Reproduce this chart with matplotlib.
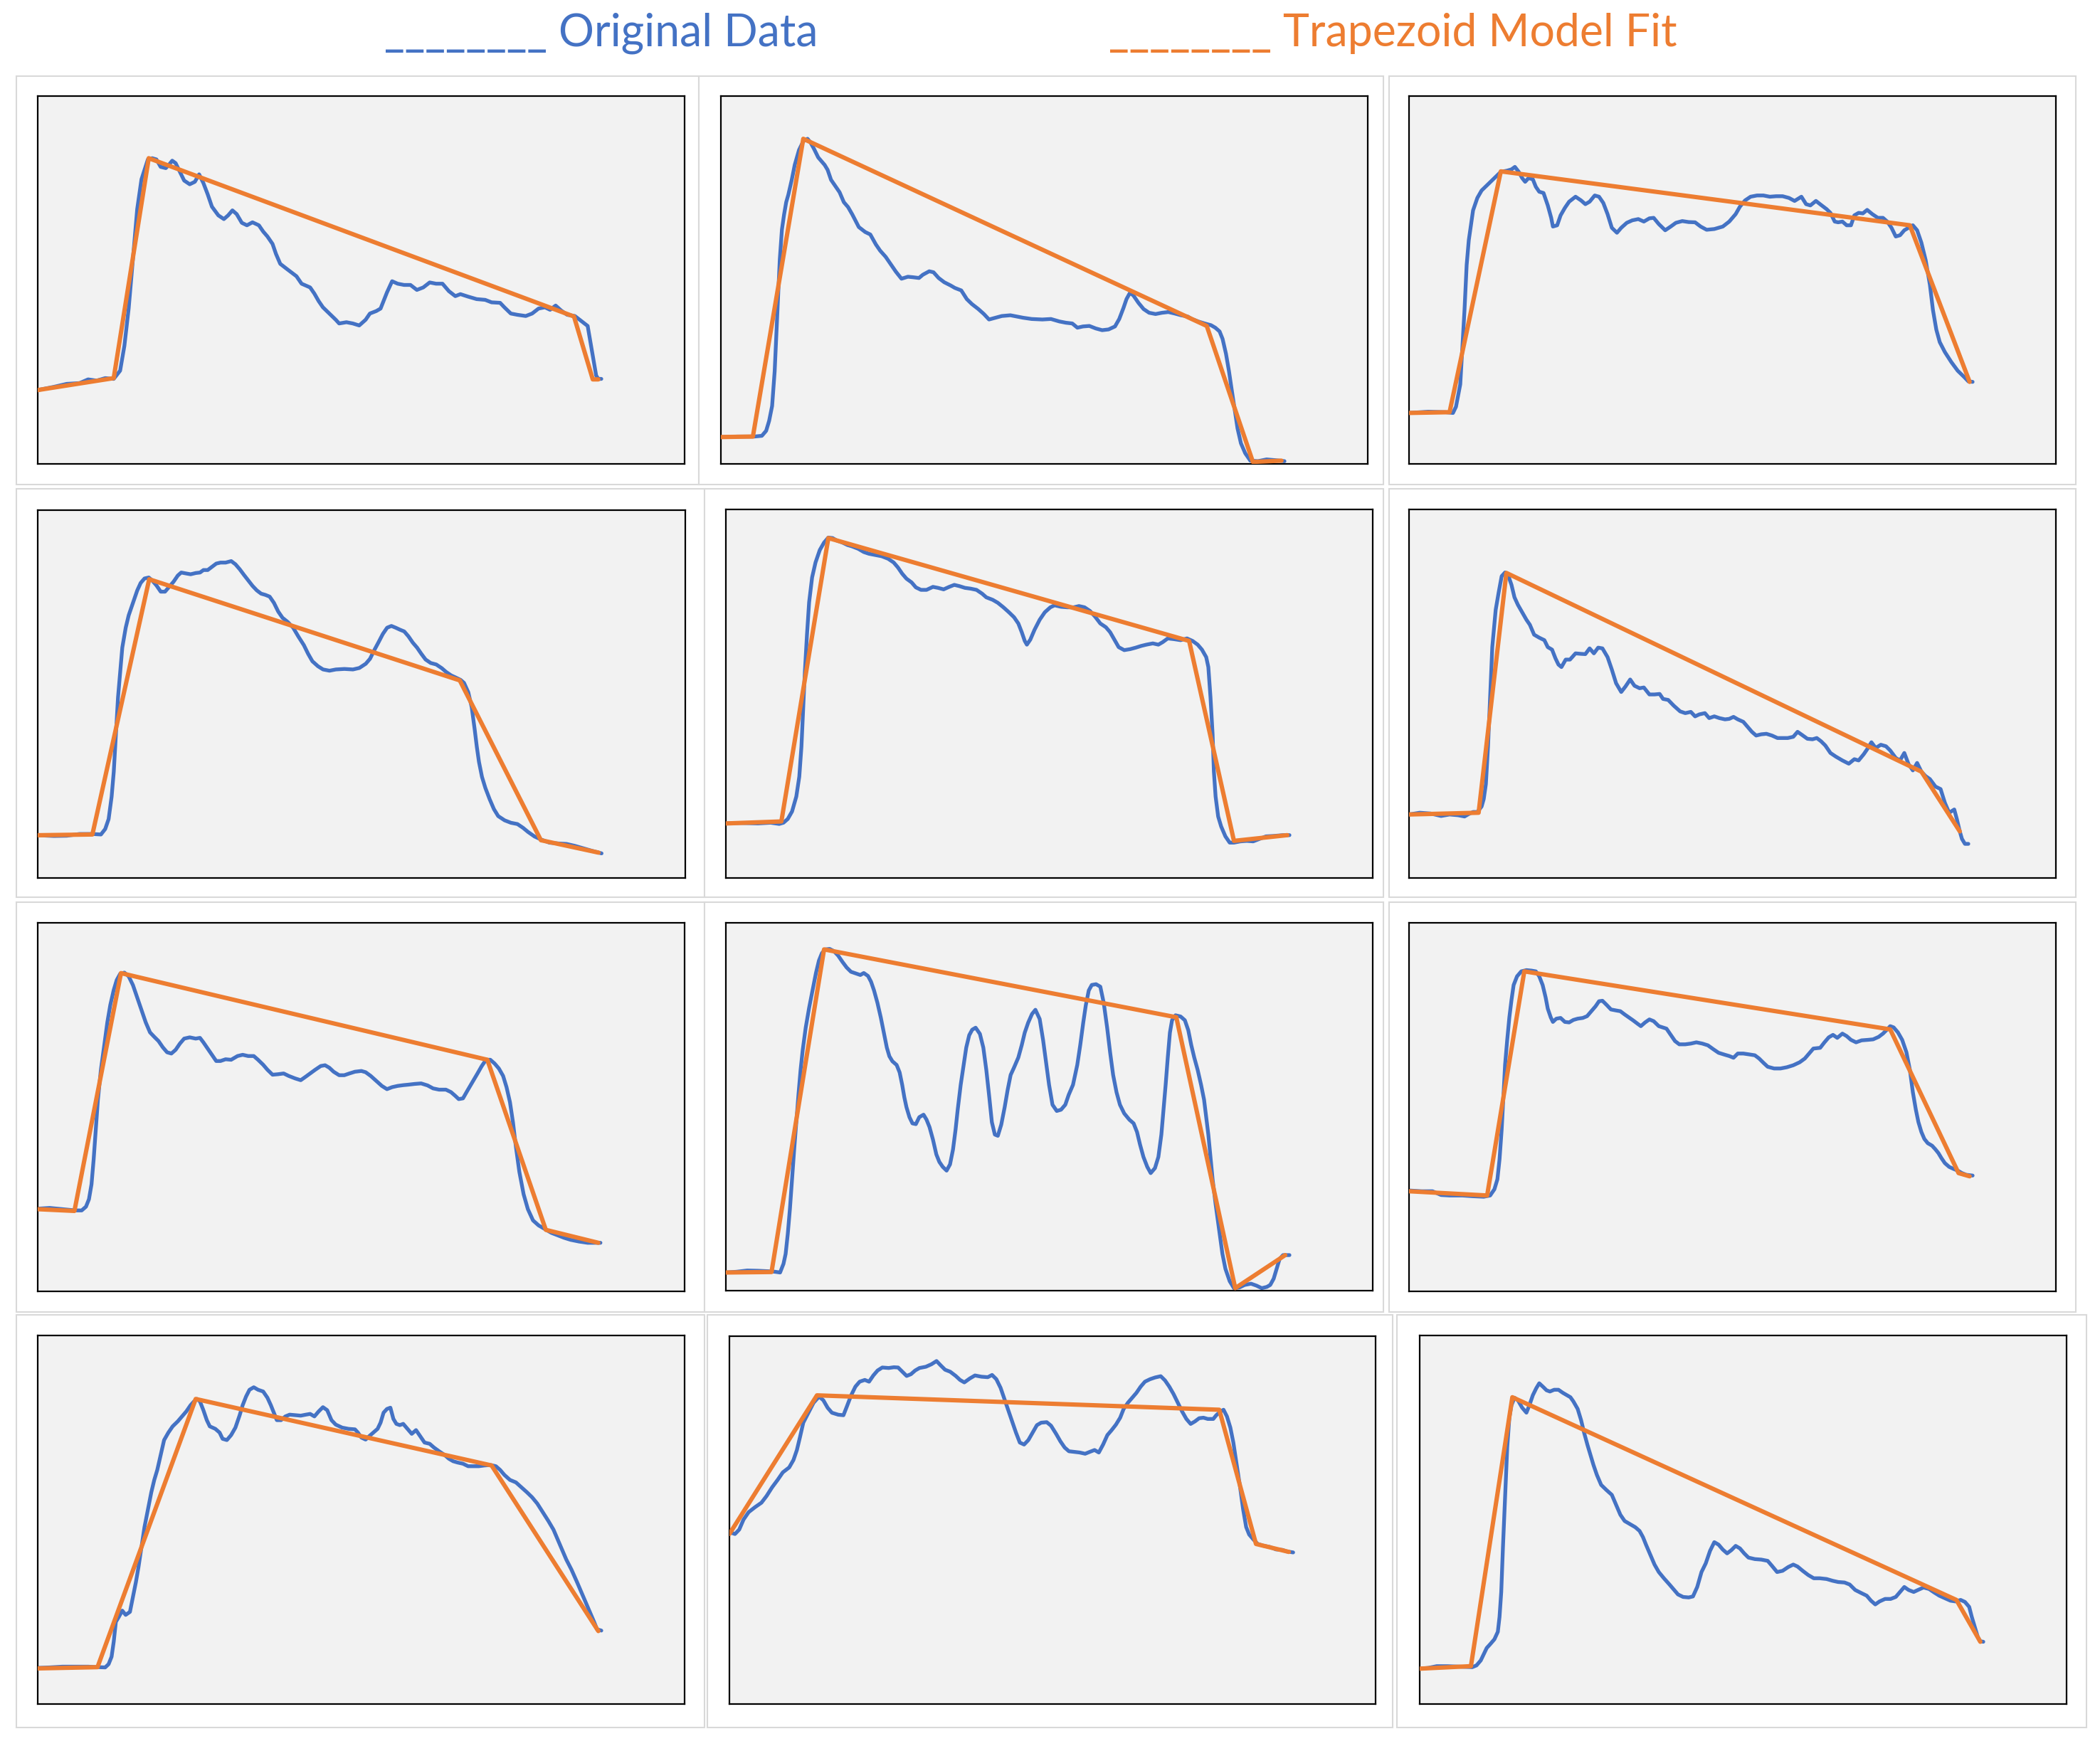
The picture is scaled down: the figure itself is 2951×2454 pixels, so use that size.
import matplotlib
matplotlib.use("Agg")
import matplotlib.pyplot as plt
from matplotlib.patches import Rectangle

# ---------------- data (time index, signal level) ----------------
p1_data = [(22,297),(60,310),(90,322),(120,325),(140,340),(160,335),(180,345),(200,342),(215,375),(225,475),(235,625),(245,825),(255,1025),(265,1145),(280,1225),(290,1230),(300,1225),(310,1195),(322,1190),(330,1205),(337,1220),(345,1210),(355,1175),(365,1140),(378,1125),(390,1135),(400,1165),(410,1130),(420,1085),(430,1035),(445,1000),(458,985),(468,1000),(478,1020),(488,1005),(500,970),(512,960),(525,972),(540,960),(550,935),(560,915),(572,885),(580,845),(590,805),(605,785),(628,755),(640,725),(660,710),(670,685),(680,655),(690,630),(705,605),(720,580),(728,565),(745,570),(760,565),(775,557),(790,580),(800,605),(815,615),(825,625),(840,690),(852,735),(865,725),(880,720),(895,720),(910,700),(925,710),(940,730),(955,725),(970,725),(985,695),(1000,675),(1012,683),(1030,673),(1050,663),(1070,660),(1085,650),(1105,648),(1115,630),(1130,605),(1145,600),(1165,595),(1180,605),(1195,625),(1210,630),(1222,620),(1235,637),(1248,617),(1262,600),(1280,595),(1295,575),(1310,555),(1318,475),(1325,405),(1330,355),(1335,342),(1342,342)]
p1_fit = [(22,297),(200,345),(282,1230),(1278,593),(1322,340),(1335,340)]

p2_data = [(22,108),(60,110),(100,110),(118,113),(128,133),(135,173),(142,233),(148,373),(152,523),(156,673),(160,823),(165,943),(170,1003),(175,1053),(180,1083),(188,1143),(195,1203),(205,1263),(215,1298),(225,1308),(232,1293),(240,1268),(250,1233),(265,1203),(272,1183),(280,1143),(290,1118),(300,1093),(310,1053),(320,1033),(330,1003),(345,953),(360,933),(372,923),(385,883),(395,858),(408,833),(420,803),(432,773),(445,745),(460,753),(472,751),(486,748),(495,761),(510,775),(520,771),(532,748),(545,731),(560,718),(570,708),(585,698),(598,663),(610,643),(625,623),(638,603),(650,581),(665,588),(680,595),(700,598),(715,593),(730,588),(750,583),(775,581),(795,583),(815,573),(830,568),(845,565),(857,548),(870,553),(885,555),(900,545),(915,538),(930,541),(945,553),(955,583),(965,628),(972,663),(980,688),(988,678),(1000,648),(1012,623),(1025,608),(1040,603),(1055,608),(1070,611),(1085,605),(1100,598),(1115,593),(1125,583),(1140,573),(1155,565),(1170,558),(1180,548),(1190,533),(1197,503),(1205,443),(1212,373),(1218,303),(1225,223),(1232,143),(1240,83),(1250,43),(1262,13),(1280,11),(1300,18),(1320,15),(1342,11)]
p2_fit = [(22,108),(97,110),(215,1308),(1160,555),(1268,8),(1335,13)]

p3_data = [(25,205),(70,210),(110,208),(128,205),(135,230),(145,320),(150,470),(155,620),(160,800),(165,900),(170,960),(175,1020),(185,1070),(195,1100),(210,1125),(225,1150),(240,1175),(255,1180),(265,1185),(273,1195),(282,1175),(290,1150),(297,1135),(305,1150),(315,1145),(322,1115),(330,1095),(340,1090),(350,1040),(358,990),(362,955),(372,960),(380,1000),(390,1030),(400,1055),(415,1075),(428,1060),(438,1045),(448,1055),(460,1080),(470,1075),(480,1050),(490,1005),(500,950),(512,930),(522,950),(535,970),(548,980),(562,985),(575,975),(588,988),(598,990),(610,965),(625,940),(638,955),(650,970),(665,977),(680,973),(695,972),(708,955),(722,942),(740,945),(760,955),(775,975),(790,1005),(800,1035),(812,1060),(825,1075),(840,1080),(855,1080),(870,1075),(885,1077),(900,1077),(915,1070),(928,1058),(944,1075),(955,1045),(965,1040),(978,1058),(990,1042),(1003,1025),(1012,1010),(1022,975),(1030,972),(1040,975),(1050,960),(1060,960),(1068,1000),(1078,1010),(1088,1008),(1098,1022),(1110,1005),(1123,990),(1135,990),(1145,975),(1155,950),(1165,915),(1175,920),(1185,940),(1195,950),(1205,960),(1215,940),(1225,890),(1235,820),(1245,720),(1252,620),(1260,540),(1268,490),(1280,450),(1295,410),(1310,375),(1325,350),(1335,332),(1345,330)]
p3_fit = [(25,205),(120,208),(240,1177),(1198,960),(1338,330)]

p4_data = [(22,172),(60,169),(90,170),(120,177),(150,177),(170,175),(180,197),(188,237),(195,327),(200,427),(205,577),(210,727),(215,827),(220,927),(228,1007),(235,1057),(245,1107),(255,1157),(263,1187),(272,1205),(282,1209),(290,1197),(300,1177),(310,1152),(320,1152),(330,1172),(340,1192),(350,1217),(358,1229),(370,1225),(380,1222),(392,1227),(402,1229),(410,1239),(420,1239),(430,1252),(440,1265),(450,1269),(462,1269),(475,1275),(485,1262),(495,1242),(505,1219),(515,1197),(525,1175),(535,1157),(545,1144),(555,1139),(565,1132),(575,1107),(585,1072),(595,1047),(608,1029),(620,1007),(632,972),(645,937),(655,902),(665,872),(678,852),(690,839),(705,834),(720,839),(740,841),(760,839),(775,845),(790,862),(800,882),(810,917),(820,949),(830,982),(840,1007),(850,1014),(860,1007),(870,999),(880,992),(890,972),(900,947),(910,927),(920,902),(930,879),(942,865),(955,859),(968,844),(978,829),(990,815),(1000,807),(1012,797),(1020,785),(1030,747),(1038,687),(1045,597),(1050,527),(1055,467),(1062,407),(1070,362),(1080,317),(1090,277),(1100,249),(1115,232),(1130,222),(1145,217),(1158,202),(1170,185),(1185,167),(1200,155),(1220,142),(1240,139),(1260,137),(1280,129),(1300,119),(1320,109),(1342,99)]
p4_fit = [(22,172),(150,175),(283,1202),(1010,795),(1200,152),(1335,102)]

p5_data = [(25,219),(60,221),(100,219),(130,222),(150,217),(160,222),(170,237),(180,267),(190,327),(197,407),(202,527),(206,677),(210,827),(215,977),(220,1107),(227,1207),(235,1267),(245,1317),(255,1347),(265,1367),(275,1365),(285,1355),(298,1347),(310,1337),(320,1332),(335,1322),(348,1309),(360,1302),(375,1297),(390,1292),(405,1282),(418,1267),(428,1247),(438,1222),(448,1202),(460,1187),(470,1167),(482,1157),(495,1157),(510,1169),(522,1165),(535,1159),(548,1169),(560,1177),(572,1172),(585,1165),(598,1162),(612,1157),(625,1142),(635,1127),(650,1117),(662,1105),(675,1087),(688,1067),(700,1047),(710,1022),(718,987),(725,952),(730,937),(738,957),(748,997),(760,1037),(772,1067),(785,1087),(795,1095),(810,1089),(825,1087),(840,1087),(852,1092),(865,1087),(878,1072),(890,1049),(902,1022),(915,1007),(925,987),(935,957),(945,927),(958,915),(972,919),(985,925),(998,932),(1010,937),(1025,942),(1038,937),(1048,947),(1060,962),(1075,959),(1090,955),(1105,962),(1118,952),(1130,937),(1140,917),(1150,887),(1155,847),(1160,727),(1165,577),(1168,427),(1172,327),(1178,247),(1185,207),(1195,167),(1205,142),(1215,142),(1230,147),(1245,149),(1260,147),(1275,157),(1290,167),(1310,169),(1330,172),(1345,172)]
p5_fit = [(25,219),(155,227),(265,1365),(1110,952),(1215,149),(1340,172)]

p6_data = [(25,255),(50,262),(75,259),(100,249),(120,255),(140,252),(155,247),(165,257),(175,265),(185,265),(195,287),(200,317),(205,377),(210,527),(215,727),(220,927),(228,1077),(235,1147),(242,1212),(250,1227),(258,1212),(265,1177),(272,1127),(280,1097),(290,1067),(300,1037),(308,1017),(318,977),(330,965),(342,955),(350,927),(360,917),(368,882),(375,857),(382,847),(392,877),(402,877),(415,902),(428,900),(438,899),(448,922),(458,902),(468,925),(478,922),(490,887),(500,837),(510,782),(522,747),(532,769),(543,797),(553,772),(565,762),(575,765),(588,737),(600,737),(612,739),(620,719),(632,715),(645,692),(660,669),(672,662),(685,667),(695,649),(705,657),(718,662),(728,642),(740,649),(752,642),(765,637),(775,639),(785,647),(795,637),(808,627),(818,607),(828,587),(838,572),(850,577),(862,579),(875,572),(888,562),(900,562),(912,562),(925,567),(935,587),(945,575),(958,559),(970,557),(980,562),(990,549),(1000,532),(1012,502),(1025,487),(1040,472),(1055,459),(1068,477),(1078,472),(1090,497),(1100,522),(1108,545),(1118,522),(1130,535),(1142,529),(1152,512),(1165,482),(1175,472),(1185,502),(1195,457),(1205,432),(1215,462),(1225,427),(1235,409),(1245,397),(1258,367),(1270,357),(1280,302),(1290,262),(1302,275),(1308,237),(1315,187),(1320,157),(1327,137),(1335,137)]
p6_fit = [(25,255),(188,262),(253,1225),(1225,427),(1315,187)]

p7_data = [(22,332),(50,335),(80,330),(110,325),(125,325),(135,340),(142,370),(148,430),(153,530),(158,650),(163,770),(170,890),(178,990),(185,1080),(192,1150),(200,1210),(207,1250),(215,1275),(225,1280),(235,1265),(245,1230),(255,1180),(265,1130),(275,1080),(285,1040),(295,1022),(305,1005),(315,980),(325,960),(335,955),(345,970),(355,995),(365,1015),(378,1020),(392,1015),(402,1018),(410,1000),(420,975),(430,950),(440,925),(450,925),(462,932),(475,930),(490,945),(502,950),(515,945),(528,945),(538,930),(550,910),(560,890),(572,870),(585,872),(598,875),(610,865),(625,855),(638,848),(648,860),(660,875),(672,890),(685,905),(695,908),(705,898),(715,882),(728,868),(740,868),(752,875),(765,882),(780,885),(790,880),(802,865),(815,845),(828,825),(840,812),(852,820),(865,825),(878,828),(890,830),(905,833),(920,835),(935,827),(948,815),(962,810),(978,810),(990,800),(1000,785),(1008,772),(1018,775),(1028,805),(1040,840),(1052,875),(1062,905),(1072,930),(1082,930),(1092,915),(1102,895),(1112,865),(1120,820),(1128,760),(1135,680),(1142,580),(1150,480),(1160,390),(1170,330),(1182,285),(1195,265),(1210,250),(1225,235),(1240,225),(1255,215),(1270,207),(1290,200),(1310,195),(1340,195)]
p7_fit = [(22,330),(108,323),(217,1278),(1075,930),(1212,247),(1335,195)]

p8_data = [(25,73),(50,76),(75,81),(100,80),(125,78),(140,76),(152,73),(160,108),(165,148),(170,228),(175,328),(180,448),(185,568),(190,678),(195,788),(200,888),(205,968),(212,1058),(220,1138),(228,1208),(236,1278),(243,1328),(250,1358),(258,1373),(268,1375),(278,1366),(288,1348),(298,1323),(308,1300),(318,1283),(330,1276),(340,1270),(348,1278),(358,1266),(365,1243),(372,1208),(380,1158),(388,1098),(395,1038),(402,978),(408,943),(415,923),(425,908),(432,878),(438,828),(443,778),(448,738),(455,698),(462,673),(470,670),(478,698),(488,708),(495,688),(502,658),(510,608),(518,548),(525,518),(533,498),(542,483),(550,508),(557,568),(563,648),(568,728),(575,828),(582,908),(588,978),(595,1028),(602,1050),(610,1058),(620,1033),(628,978),(635,888),(642,778),(648,678),(655,628),(662,623),(670,668),(678,738),(685,808),(692,868),(700,898),(710,938),(718,988),(725,1038),(733,1078),(742,1113),(750,1130),(760,1093),(768,1008),(775,918),(782,828),(790,748),(800,723),(810,728),(820,748),(828,788),(838,828),(848,908),(855,988),(862,1078),(868,1148),(875,1208),(882,1230),(892,1233),(902,1223),(910,1158),(918,1058),(925,958),(932,868),(940,798),(948,748),(958,713),(970,688),(980,673),(988,638),(995,588),(1003,538),(1012,498),(1020,473),(1030,493),(1038,538),(1045,628),(1050,728),(1055,828),(1060,938),(1065,1038),(1070,1088),(1078,1108),(1090,1103),(1100,1088),(1108,1048),(1115,988),(1122,938),(1130,888),(1138,828),(1145,768),(1150,698),(1155,628),(1160,538),(1165,448),(1172,348),(1180,248),(1188,148),(1195,88),(1205,38),(1215,10),(1228,13),(1240,23),(1255,28),(1268,20),(1280,10),(1292,15),(1300,23),(1308,48),(1315,88),(1322,128),(1330,143),(1345,143)]
p8_fit = [(25,73),(132,75),(255,1373),(1080,1100),(1218,10),(1335,143)]

p9_data = [(25,405),(55,402),(80,402),(100,387),(120,385),(150,385),(175,382),(200,380),(215,385),(225,410),(232,450),(237,530),(242,650),(246,780),(250,910),(255,1010),(260,1100),(265,1170),(270,1230),(278,1265),(288,1285),(300,1290),(312,1288),(322,1285),(330,1265),(338,1230),(345,1180),(350,1135),(357,1100),(362,1082),(370,1095),(380,1098),(390,1082),(400,1080),(410,1090),(420,1095),(432,1098),(442,1105),(452,1125),(462,1145),(470,1165),(478,1167),(488,1150),(498,1132),(510,1128),(520,1125),(530,1112),(540,1100),(550,1088),(560,1075),(568,1065),(578,1080),(588,1092),(598,1085),(610,1065),(628,1055),(638,1030),(648,1005),(658,992),(672,992),(685,995),(698,1000),(712,995),(725,988),(738,972),(750,958),(765,950),(775,945),(785,938),(795,955),(808,955),(820,952),(835,948),(845,935),(855,918),(865,902),(880,895),(895,895),(910,900),(925,908),(940,920),(952,935),(962,955),(972,975),(988,978),(998,1000),(1008,1020),(1018,1030),(1028,1018),(1040,1035),(1050,1025),(1060,1010),(1072,1000),(1085,1008),(1100,1010),(1112,1012),(1125,1022),(1135,1035),(1145,1052),(1152,1065),(1160,1060),(1170,1040),(1180,1010),(1190,960),(1198,890),(1205,800),(1212,730),(1218,680),(1225,640),(1232,612),(1240,595),(1250,585),(1258,570),(1265,555),(1272,535),(1280,515),(1290,500),(1300,492),(1310,485),(1320,475),(1330,468),(1345,465)]
p9_fit = [(25,402),(208,385),(295,1285),(1152,1052),(1312,475),(1338,462)]

p10_data = [(22,145),(50,147),(80,150),(110,150),(140,150),(165,148),(180,147),(188,160),(195,190),(200,250),(205,330),(212,350),(220,375),(228,358),(238,370),(245,430),(252,490),(258,550),(265,630),(272,710),(280,780),(288,850),(295,900),(302,940),(310,1000),(318,1060),(328,1090),(338,1115),(350,1135),(360,1155),(370,1175),(380,1200),(388,1215),(395,1225),(402,1215),(410,1180),(418,1140),(425,1115),(438,1105),(448,1090),(455,1065),(465,1060),(475,1080),(485,1110),(495,1160),(502,1200),(510,1235),(518,1262),(528,1272),(538,1262),(550,1255),(560,1230),(568,1200),(575,1170),(582,1140),(592,1140),(602,1155),(612,1162),(625,1160),(638,1158),(650,1162),(660,1165),(670,1155),(680,1175),(690,1192),(700,1180),(710,1140),(720,1122),(735,1110),(750,1105),(765,1103),(772,1090),(780,1070),(790,1062),(798,1075),(808,1090),(818,1105),(825,1130),(832,1170),(840,1185),(848,1190),(855,1145),(862,1125),(870,1120),(878,1125),(888,1105),(898,1085),(908,1100),(918,1075),(928,1050),(940,1045),(950,1030),(962,1015),(975,1000),(985,985),(995,975),(1005,970),(1018,965),(1030,955),(1042,955),(1055,955),(1068,958),(1082,960),(1095,955),(1105,940),(1115,920),(1128,900),(1142,890),(1155,870),(1168,850),(1180,830),(1192,805),(1205,770),(1218,735),(1230,700),(1240,660),(1250,620),(1260,580),(1272,540),(1285,490),(1295,450),(1305,410),(1315,370),(1325,330),(1332,300),(1342,295)]
p10_fit = [(22,143),(162,148),(392,1225),(1085,958),(1335,293)]

p11_data = [(25,692),(38,684),(48,702),(58,742),(70,772),(85,792),(100,810),(112,837),(125,872),(138,902),(150,932),(165,952),(175,982),(183,1022),(190,1072),(198,1132),(210,1172),(222,1212),(235,1237),(245,1222),(255,1192),(265,1172),(280,1164),(292,1162),(300,1197),(310,1242),(320,1277),(330,1297),(342,1304),(352,1297),(362,1322),(372,1342),(383,1354),(398,1352),(410,1355),(420,1354),(430,1337),(440,1320),(450,1327),(460,1342),(470,1352),(485,1357),(498,1367),(510,1380),(520,1362),(530,1345),(542,1337),(555,1320),(565,1304),(575,1294),(588,1310),(600,1322),(615,1317),(630,1315),(640,1324),(650,1307),(660,1272),(668,1232),(678,1182),(688,1132),(696,1092),(705,1052),(715,1044),(725,1062),(735,1092),(745,1122),(755,1132),(768,1134),(778,1120),(790,1087),(800,1057),(810,1032),(820,1017),(835,1014),(845,1012),(858,1007),(868,1014),(880,1022),(890,1012),(900,1044),(910,1082),(920,1102),(930,1124),(940,1152),(948,1187),(958,1212),(968,1232),(978,1252),(988,1277),(998,1297),(1010,1307),(1022,1314),(1035,1319),(1045,1302),(1055,1277),(1065,1247),(1075,1212),(1085,1177),(1095,1147),(1105,1127),(1115,1137),(1125,1150),(1135,1152),(1145,1147),(1158,1147),(1165,1162),(1175,1177),(1182,1184),(1190,1157),(1198,1112),(1205,1052),(1212,972),(1220,882),(1228,782),(1235,712),(1242,682),(1252,662),(1262,644),(1275,637),(1290,632),(1305,622),(1320,620),(1330,614),(1345,610)]
p11_fit = [(25,684),(230,1242),(1172,1184),(1258,644),(1335,612)]

p12_data = [(25,142),(45,145),(65,152),(90,152),(120,150),(148,148),(158,155),(168,175),(175,200),(182,225),(190,240),(200,260),(208,290),(212,350),(216,450),(220,630),(225,830),(230,1030),(235,1150),(240,1200),(247,1230),(255,1220),(265,1190),(275,1170),(282,1200),(290,1240),(298,1268),(305,1288),(315,1272),(322,1260),(330,1255),(340,1262),(350,1262),(360,1250),(370,1240),(378,1232),(385,1215),(395,1185),(403,1140),(410,1090),(418,1040),(425,1000),(432,960),(440,920),(450,880),(462,860),(475,840),(485,800),(495,760),(505,735),(518,722),(530,710),(540,695),(548,670),(555,640),(565,600),(575,560),(585,530),(597,505),(610,480),(620,460),(630,440),(642,430),(655,428),(665,432),(675,470),(685,530),(695,565),(705,615),(715,650),(725,640),(735,620),(745,605),(755,618),(765,635),(775,625),(785,605),(795,588),(810,582),(825,580),(840,575),(850,555),(862,530),(875,535),(888,550),(900,560),(910,552),(922,535),(935,518),(948,505),(962,505),(978,502),(992,495),(1005,490),(1020,488),(1032,480),(1045,458),(1060,445),(1072,435),(1082,415),(1092,400),(1102,412),(1115,422),(1128,422),(1140,430),(1150,450),(1160,470),(1170,458),(1182,450),(1192,458),(1205,468),(1218,462),(1230,448),(1242,435),(1255,425),(1268,415),(1280,412),(1292,418),(1302,410),(1312,390),(1318,350),(1325,310),(1332,270),(1338,252),(1345,250)]
p12_fit = [(25,142),(145,152),(242,1232),(1282,418),(1338,250)]

series_data = [p1_data, p2_data, p3_data, p4_data, p5_data, p6_data,
               p7_data, p8_data, p9_data, p10_data, p11_data, p12_data]
series_fit = [p1_fit, p2_fit, p3_fit, p4_fit, p5_fit, p6_fit,
              p7_fit, p8_fit, p9_fit, p10_fit, p11_fit, p12_fit]
x_ranges = [(22, 1537), (22, 1537), (25, 1540), (22, 1538), (25, 1540), (25, 1540),
            (22, 1537), (25, 1540), (25, 1540), (22, 1537), (25, 1538), (25, 1540)]
y_range = (0, 1480)

legend_labels = ["________ Original Data", "________ Trapezoid Model Fit"]

# ---------------- layout (pixels in the 2951x2454 canvas) ----------------
W, H = 2951, 2454
BLUE = "#4472C4"
ORANGE = "#ED7D31"

plot_boxes = [
    (53, 135, 962, 652), (1013, 135, 1922, 652), (1980, 135, 2889, 652),
    (53, 717, 963, 1234), (1020, 716, 1929, 1234), (1980, 716, 2889, 1234),
    (53, 1297, 962, 1815), (1020, 1297, 1929, 1814), (1980, 1297, 2889, 1815),
    (53, 1877, 962, 2395), (1025, 1878, 1933, 2395), (1995, 1877, 2904, 2395),
]
cells = [
    (23, 107, 982, 681), (982, 107, 1944, 681), (1952, 107, 2917, 681),
    (23, 687, 990, 1261), (990, 687, 1944, 1261), (1952, 687, 2917, 1261),
    (23, 1268, 990, 1844), (990, 1268, 1944, 1844), (1952, 1268, 2917, 1844),
    (23, 1848, 990, 2428), (994, 1848, 1957, 2428), (1963, 1848, 2932, 2428),
]

def frac(box):
    x0, y0, x1, y1 = box
    return [x0 / W, 1 - y1 / H, (x1 - x0) / W, (y1 - y0) / H]

fig = plt.figure(figsize=(W / 100, H / 100), dpi=100)
fig.patch.set_facecolor("white")

for c in cells:
    l, b, w, h = frac(c)
    fig.add_artist(Rectangle((l, b), w, h, transform=fig.transFigure,
                             facecolor="white", edgecolor="#D9D9D9", linewidth=1.5,
                             zorder=0))

for i in range(12):
    ax = fig.add_axes(frac(plot_boxes[i]))
    ax.set_facecolor("#F2F2F2")
    dx = [p[0] for p in series_data[i]]
    dy = [p[1] for p in series_data[i]]
    fx = [p[0] for p in series_fit[i]]
    fy = [p[1] for p in series_fit[i]]
    ax.plot(dx, dy, color=BLUE, linewidth=3.8, solid_capstyle="round",
            solid_joinstyle="round", zorder=2)
    ax.plot(fx, fy, color=ORANGE, linewidth=4.4, solid_capstyle="round",
            solid_joinstyle="round", zorder=3)
    ax.set_xlim(*x_ranges[i])
    ax.set_ylim(*y_range)
    ax.set_xticks([])
    ax.set_yticks([])
    for s in ax.spines.values():
        s.set_color("black")
        s.set_linewidth(1.6)

fig.text(540 / W, 1 - 47 / H, legend_labels[0], color=BLUE, fontsize=45,
         family="Lato", ha="left", va="center")
fig.text(1558 / W, 1 - 47 / H, legend_labels[1], color=ORANGE, fontsize=45,
         family="Lato", ha="left", va="center")

fig.savefig("out.png", dpi=100, facecolor="white")
